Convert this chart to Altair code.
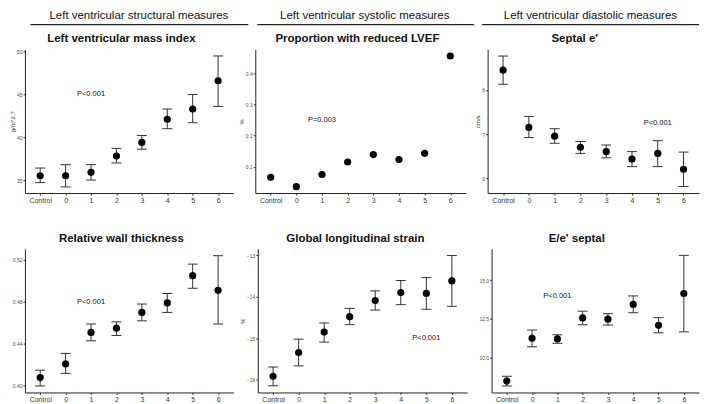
import altair as alt
import pandas as pd

FONT = "Liberation Sans"

cats = ["Control", "0", "1", "2", "3", "4", "5", "6"]

headers = ["Left ventricular structural measures",
           "Left ventricular systolic measures",
           "Left ventricular diastolic measures"]

# Left ventricular mass index (g/m^2.7)
lvmi_mean = [35.5, 35.5, 35.9, 37.8, 39.4, 42.1, 43.3, 46.6]
lvmi_lo = [34.7, 34.2, 35.0, 37.0, 38.6, 41.0, 41.7, 43.6]
lvmi_hi = [36.4, 36.8, 36.8, 38.7, 40.2, 43.3, 45.0, 49.5]

# Proportion with reduced LVEF
lvef_prop = [0.066, 0.036, 0.075, 0.115, 0.139, 0.123, 0.143, 0.455]

# Septal e' (cm/s)
sep_mean = [8.45, 7.15, 6.95, 6.70, 6.60, 6.43, 6.56, 6.20]
sep_lo = [8.13, 6.92, 6.79, 6.56, 6.46, 6.26, 6.26, 5.81]
sep_hi = [8.77, 7.40, 7.12, 6.83, 6.75, 6.60, 6.85, 6.59]

# Relative wall thickness
rwt_mean = [0.408, 0.421, 0.451, 0.455, 0.470, 0.479, 0.505, 0.491]
rwt_lo = [0.400, 0.412, 0.443, 0.448, 0.462, 0.470, 0.493, 0.459]
rwt_hi = [0.415, 0.431, 0.459, 0.461, 0.478, 0.488, 0.516, 0.524]

# Global longitudinal strain (%)
gls_mean = [-15.91, -15.34, -14.85, -14.48, -14.09, -13.90, -13.92, -13.62]
gls_lo = [-16.14, -15.66, -15.09, -14.67, -14.32, -14.19, -14.30, -14.23]
gls_hi = [-15.69, -15.02, -14.63, -14.28, -13.86, -13.61, -13.54, -13.01]

# E/e' septal
ee_mean = [8.45, 11.22, 11.18, 12.54, 12.46, 13.42, 12.06, 14.12]
ee_lo = [8.13, 10.67, 10.90, 12.10, 12.08, 12.88, 11.58, 11.64]
ee_hi = [8.76, 11.76, 11.45, 12.98, 12.82, 13.97, 12.56, 16.60]


def make_panel(title, mean, lo, hi, domain, ticks, fmt, ytitle,
               ptext, pgroup, pval, width, height, title_x, header=None):
    df = pd.DataFrame({"group": cats, "mean": mean})
    xenc = alt.X("group:N", sort=cats, title=None,
                 scale=alt.Scale(type="point", padding=0.6, domain=cats),
                 axis=alt.Axis(labelAngle=0, labelFontSize=7, labelColor="#333333",
                               labelFont=FONT, tickSize=2, tickColor="#333333",
                               labelPadding=1, domainColor="#222222", domainWidth=1,
                               grid=False))
    yscale = alt.Scale(domain=domain, nice=False, zero=False)
    yaxis = alt.Axis(values=ticks, format=fmt, labelFontSize=5, labelColor="#4d4d4d",
                     labelFont=FONT, tickSize=2, tickColor="#333333", labelPadding=1,
                     domainColor="#222222", domainWidth=1, grid=False,
                     titleFontSize=6, titleFontWeight="normal", titleFont=FONT,
                     titleColor="#333333", titlePadding=1)

    def Y(field):
        return alt.Y(f"{field}:Q", scale=yscale, axis=yaxis, title=ytitle)

    layers = []
    if lo is not None:
        df["lo"] = lo
        df["hi"] = hi
        base = alt.Chart(df)
        layers.append(base.mark_rule(color="#333333", strokeWidth=1).encode(
            x=xenc, y=Y("lo"), y2="hi:Q"))
        layers.append(base.mark_tick(size=10, thickness=1, color="#333333", opacity=1).encode(
            x=xenc, y=Y("lo")))
        layers.append(base.mark_tick(size=10, thickness=1, color="#333333", opacity=1).encode(
            x=xenc, y=Y("hi")))
    layers.append(alt.Chart(df).mark_circle(size=52, color="black", opacity=1).encode(
        x=xenc, y=Y("mean")))
    pdf = pd.DataFrame({"group": [pgroup], "val": [pval], "label": [ptext]})
    layers.append(alt.Chart(pdf).mark_text(fontSize=7.5, font=FONT, color="#111111").encode(
        x=xenc, y=Y("val"), text="label:N"))
    tdf = pd.DataFrame({"label": [title]})
    layers.append(alt.Chart(tdf).mark_text(fontSize=11.5, font=FONT, fontWeight="bold",
                                           color="#111111", baseline="middle",
                                           align="center").encode(
        text="label:N", x=alt.value(title_x), y=alt.value(-10)))
    if header is not None:
        htext, hx, rx1, rx2 = header
        hdf = pd.DataFrame({"label": [htext]})
        layers.append(alt.Chart(hdf).mark_text(fontSize=11.5, font=FONT, color="#111111",
                                               baseline="middle", align="center").encode(
            text="label:N", x=alt.value(hx), y=alt.value(-34)))
        layers.append(alt.Chart(hdf).mark_rule(color="#222222", strokeWidth=1.3).encode(
            x=alt.value(rx1), x2=alt.value(rx2), y=alt.value(-25)))
    return alt.layer(*layers).properties(width=width, height=height)


p1 = make_panel("Left ventricular mass index", lvmi_mean, lvmi_lo, lvmi_hi,
                [33.48, 50.26], [35, 40, 45, 50], "d", "g/m^2.7",
                "P<0.001", "1", 45.0, 209, 144, 96.7,
                header=(headers[0], 114.3, 5.5, 224))
p2 = make_panel("Proportion with reduced LVEF", lvef_prop, None, None,
                [0.0155, 0.476], [0.1, 0.2, 0.3, 0.4], ".1f", "%",
                "P=0.003", "1", 0.25, 211, 144, 102.4,
                header=(headers[1], 109.8, 2, 219.5))
p3 = make_panel("Septal e'", sep_mean, sep_lo, sep_hi,
                [5.66, 8.92], [6, 7, 8], "d", "cm/s",
                "P<0.001", "5", 7.25, 212, 144, 87.4,
                header=(headers[2], 103.1, -5.7, 212))
p4 = make_panel("Relative wall thickness", rwt_mean, rwt_lo, rwt_hi,
                [0.3938, 0.5305], [0.40, 0.44, 0.48, 0.52], ".2f", None,
                "P<0.001", "1", 0.48, 209, 144, 96.7)
p5 = make_panel("Global longitudinal strain", gls_mean, gls_lo, gls_hi,
                [-16.30, -12.85], [-16, -15, -14, -13], "d", "%",
                "P<0.001", "5", -15.0, 210, 144, 97.9)
p6 = make_panel("E/e' septal", ee_mean, ee_lo, ee_hi,
                [7.71, 17.02], [10.0, 12.5, 15.0], ".1f", None,
                "P<0.001", "1", 13.95, 208, 144, 85.4)

top = alt.hconcat(p1, p2, p3, spacing=22, bounds="flush")
bottom = alt.hconcat(p4, p5, p6, spacing=24.5, bounds="flush")

chart = alt.vconcat(top, bottom, spacing=28).properties(padding=0).configure_view(
    stroke="transparent")

chart.save("out.html", embed_options={"renderer": "svg", "actions": False})
